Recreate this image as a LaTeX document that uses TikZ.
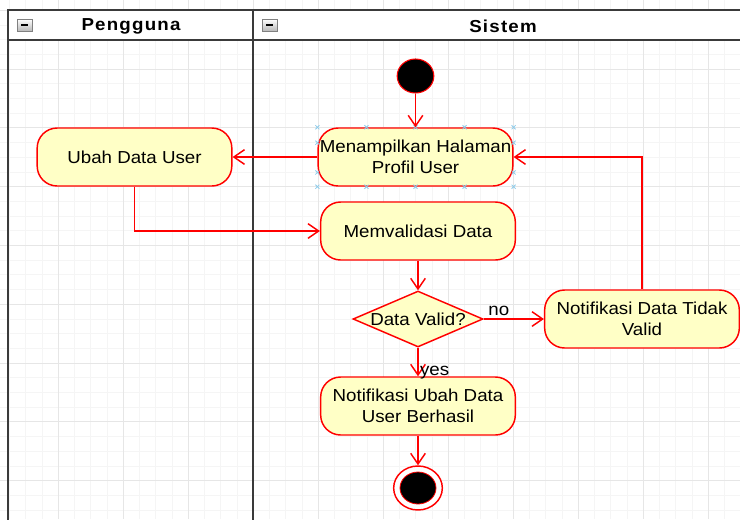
\documentclass[tikz,border=0pt]{standalone}
\usepackage{fontspec}
\setmainfont{Liberation Sans}[FakeStretch=1.08]
\usetikzlibrary{arrows.meta,positioning,calc,shapes.geometric}

\definecolor{laneline}{HTML}{3A3A3A}
\definecolor{gridminor}{HTML}{F5F5F5}
\definecolor{gridmajor}{HTML}{E6E6E6}
\definecolor{actfill}{HTML}{FFFFC6}
\definecolor{handle}{HTML}{8CCBEA}

\begin{document}
\begin{tikzpicture}[x=0.75pt, y=-0.75pt,
  txt/.style={font=\fontsize{13}{15.5}\selectfont, text=black},
  aksi/.style={txt, draw=red, line width=1.1pt, fill=actfill, rounded corners=15pt,
    minimum width=146pt, minimum height=43.5pt, align=center, inner sep=1pt},
  alur/.style={red, line width=1.1pt, -{Straight Barb[length=8pt,width=11pt]}},
  lane/.style={laneline, line width=1.9pt},
  hdr/.style={font=\fontsize{13}{15}\selectfont\bfseries\addfontfeatures{LetterSpace=7}}]
  \useasboundingbox (0,0) rectangle (740,519);
  \clip (0,0) rectangle (740,519);

  % grid
  \foreach \i in {0,...,46}
    \draw[gridminor, line width=0.6pt] ({-6.7+16.25*\i},0) -- ({-6.7+16.25*\i},519);
  \foreach \j in {-1,...,35}
    \draw[gridminor, line width=0.6pt] (0,{10.2+14.7*\j}) -- (740,{10.2+14.7*\j});
  \foreach \i in {0,4,...,44}
    \draw[gridmajor, line width=0.6pt] ({-6.7+16.25*\i},0) -- ({-6.7+16.25*\i},519);
  \foreach \j in {0,4,...,32}
    \draw[gridmajor, line width=0.6pt] (0,{10.2+14.7*\j}) -- (740,{10.2+14.7*\j});

  % swimlanes
  \fill[white] (8,10) rectangle (760,40);
  \draw[lane] (8,530) -- (8,10) -- (760,10);
  \draw[lane, line width=1.5pt] (8,40) -- (760,40);
  \draw[lane] (253,10) -- (253,530);
  \foreach \x in {17,262} {
    \draw[gray, top color=white, bottom color=gray!55] (\x,19) rectangle ++(15,12);
    \draw[black, line width=1.2pt] (\x+4,25) -- ++(7,0);
  }
  \node[hdr] (pengguna) at (131,26.5) {Pengguna};
  \node[hdr] (sistem) at (503,26.5) {Sistem};

  % aktivitas
  \node[ellipse, draw=red, line width=0.8pt, fill=black,
        minimum width=27.5pt, minimum height=25.5pt, inner sep=0pt] (mulai) at (415.5,76) {};
  \node[aksi] (tampil) at (415.5,157) {Menampilkan Halaman\\Profil User};
  \node[aksi] (ubah) at (134.5,157) {Ubah Data User};
  \node[aksi] (validasi) at (418,231) {Memvalidasi Data};
  \node[diamond, draw=red, line width=1.1pt, fill=actfill, inner sep=0pt,
        minimum width=97.5pt, minimum height=42pt,
        label={[txt]center:Data Valid?}] (cek) at (418,319) {};
  \node[aksi] (gagal) at (642,319) {Notifikasi Data Tidak\\Valid};
  \node[aksi] (sukses) at (418,406) {Notifikasi Ubah Data\\User Berhasil};
  \node[ellipse, draw=red, line width=1.1pt, fill=white,
        minimum width=36.5pt, minimum height=33pt, inner sep=0pt] (selesai) at (418,488) {};
  \node[ellipse, draw=red, line width=0.6pt, fill=black,
        minimum width=27pt, minimum height=24pt, inner sep=0pt] (selesaiIsi) at (selesai) {};

  % titik seleksi
  \foreach \f in {0,0.25,0.5,0.75,1}
    \foreach \s/\t in {north west/north east, south west/south east}
      \draw[handle, line width=0.6pt] ($(tampil.\s)!\f!(tampil.\t)$) +(-2,-2) -- +(2,2) +(-2,2) -- +(2,-2);
  \foreach \f in {0.26,0.76}
    \foreach \s/\t in {north west/south west, north east/south east}
      \draw[handle, line width=0.6pt] ($(tampil.\s)!\f!(tampil.\t)$) +(-2,-2) -- +(2,2) +(-2,2) -- +(2,-2);

  % alur
  \draw[alur] (mulai) -- (tampil);
  \draw[alur] (tampil) -- (ubah);
  \draw[alur] (ubah.south) |- (validasi.west);
  \draw[alur] (validasi) -- (cek);
  \draw[alur] (cek) -- node[txt, pos=0.25, above, inner sep=2pt] {no} (gagal);
  \draw[alur] (gagal.north) |- (tampil.east);
  \draw[alur] (cek) -- node[txt, pos=0.88, right, inner sep=1pt] {yes} (sukses);
  \draw[alur] (sukses) -- (selesai);
\end{tikzpicture}
\end{document}
